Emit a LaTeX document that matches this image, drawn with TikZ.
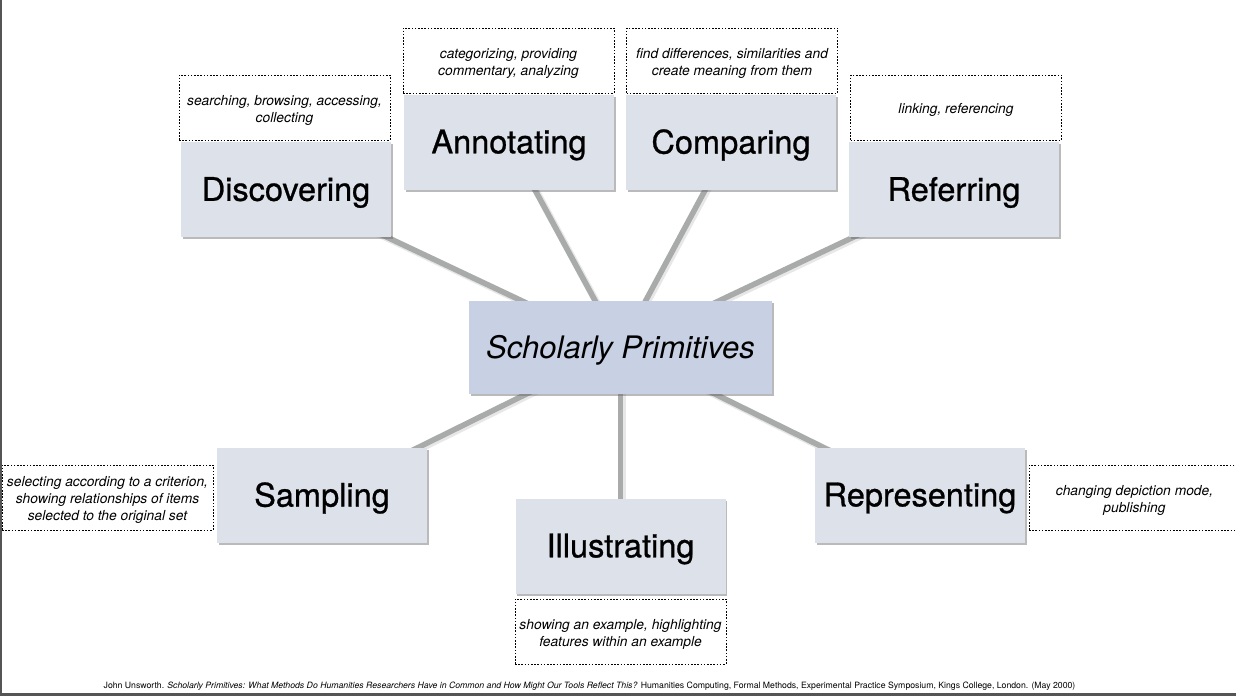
\documentclass[tikz,border=0pt]{standalone}
\usepackage{fontspec}
\setmainfont{TeX Gyre Heros}
\newfontfamily\medfont[FakeBold=0.8]{TeX Gyre Heros}
\usetikzlibrary{shadows}
\definecolor{boxfill}{RGB}{220,225,234}
\definecolor{centerfill}{RGB}{200,208,227}
\definecolor{linkgray}{RGB}{168,171,169}
\definecolor{linkshade}{RGB}{215,215,215}
\definecolor{framegray}{RGB}{85,85,85}
\tikzset{
  prim/.style={fill=boxfill, minimum width=210pt, minimum height=95pt, inner sep=0pt,
    font=\medfont\fontsize{32.5}{36}\selectfont,
    drop shadow={shadow xshift=1.5pt, shadow yshift=-2pt, opacity=0.45, fill=black!60}},
  hub/.style={prim, fill=centerfill, minimum width=303pt, minimum height=93pt,
    font=\fontsize{31}{35}\selectfont\itshape},
  desc/.style={draw=black, line width=0.8pt, dash pattern=on 1.6pt off 1.6pt,
    minimum width=211pt, minimum height=65pt, inner sep=0pt, align=center,
    font=\fontsize{13.8}{17}\selectfont\itshape},
  link/.style={line width=5.5pt, draw=linkgray},
  linkshadow/.style={line width=7pt, draw=linkshade, opacity=0.6},
  lbl/.style={inner sep=0pt, yshift=-3pt},
  dlbl/.style={inner sep=0pt, yshift=-2.5pt, align=center, font=\fontsize{13.8}{17}\selectfont\itshape},
}
\begin{document}
\begin{tikzpicture}[x=1pt,y=-1pt]
\useasboundingbox (0,0) rectangle (1236,696);
\fill[white] (0,0) rectangle (1236,696);
\fill[framegray] (0,0) rectangle (2,696);
\fill[framegray] (0,693) rectangle (1236,696);

% connectors are drawn centre to centre, below the boxes
\coordinate (cC) at (620.5,347.5);
\coordinate (cD) at (286,189.5);
\coordinate (cA) at (509,142);
\coordinate (cCo) at (731,142);
\coordinate (cR) at (954,189.5);
\coordinate (cS) at (322,495);
\coordinate (cI) at (620.5,546);
\coordinate (cRe) at (920,495);

\foreach \t in {cD,cA,cCo,cR,cS,cI,cRe}{
  \draw[linkshadow] ([shift={(1.5pt,-1.5pt)}]cC) -- ([shift={(1.5pt,-1.5pt)}]\t);
  \draw[link] (cC) -- (\t);
}

\node[hub] (center) at (cC) {};
\node[lbl, font=\fontsize{31}{35}\selectfont\itshape] (centert) at (cC) {Scholarly Primitives};
\foreach \n/\p/\txt in {disc/cD/Discovering, anno/cA/Annotating, comp/cCo/Comparing,
  refe/cR/Referring, samp/cS/Sampling, illu/cI/Illustrating, repr/cRe/Representing}{
  \node[prim] (\n) at (\p) {};
  \node[lbl, font=\medfont\fontsize{32.5}{36}\selectfont] (\n t) at (\p) {\txt};
}

\node[desc] (discd) at (284.5,107.5) {};
\node[dlbl] at (discd) {searching, browsing, accessing,\\collecting};
\node[desc] (annod) at (508.5,60.5) {};
\node[dlbl] at (annod) {categorizing, providing\\commentary, analyzing};
\node[desc] (compd) at (732,60.5) {};
\node[dlbl] at (compd) {find differences, similarities and\\create meaning from them};
\node[desc] (refed) at (956,107.5) {};
\node[dlbl] at (refed) {linking, referencing};
\node[desc] (sampd) at (107.5,497.5) {};
\node[dlbl] at (sampd) {selecting according to a criterion,\\showing relationships of items\\selected to the original set};
\node[desc] (reprd) at (1134.5,497.5) {};
\node[dlbl] at (reprd) {changing depiction mode,\\publishing};
\node[desc] (illud) at (620.5,631.5) {};
\node[dlbl] at (illud) {showing an example, highlighting\\features within an example};

\node[anchor=base, inner sep=0pt, font=\fontsize{8.7}{10}\selectfont] (cite) at (589.5,688)
{John Unsworth. \textit{Scholarly Primitives: What Methods Do Humanities Researchers Have in Common and How Might Our Tools Reflect This?} Humanities Computing, Formal Methods, Experimental Practice Symposium, Kings College, London. (May 2000)};
\end{tikzpicture}
\end{document}
